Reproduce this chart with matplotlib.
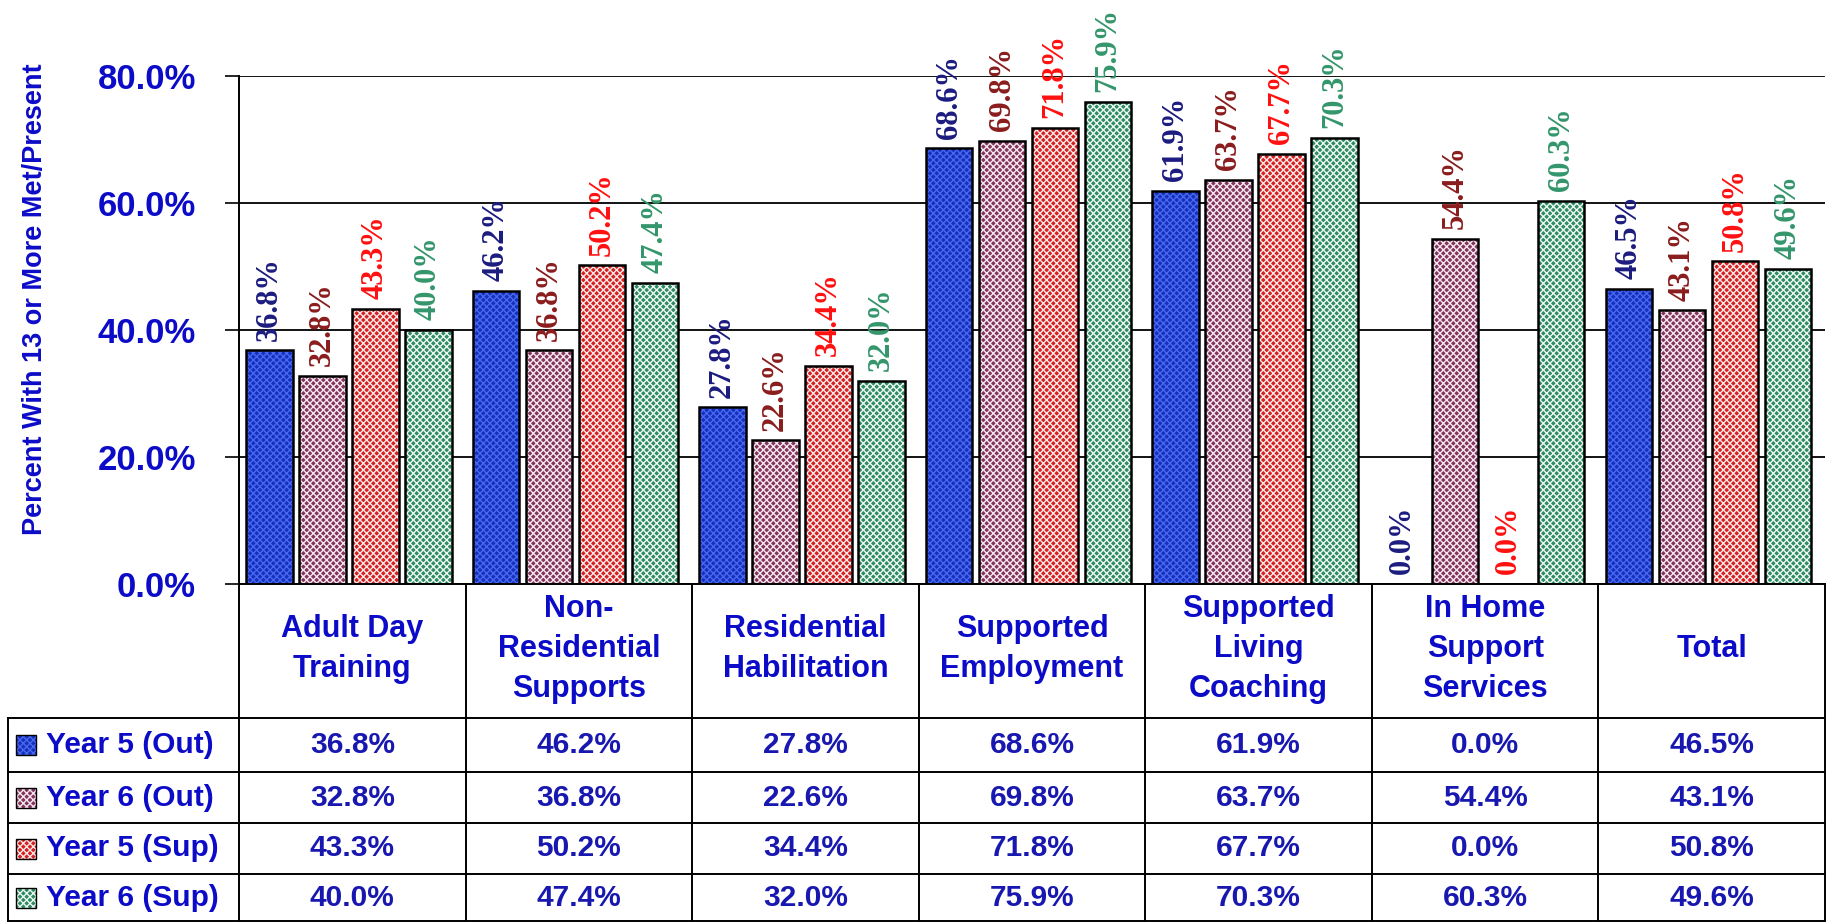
import numpy as np
import matplotlib
matplotlib.use("Agg")
import matplotlib.pyplot as plt
from matplotlib.patches import Rectangle

categories = ["Adult Day\nTraining", "Non-\nResidential\nSupports", "Residential\nHabilitation",
              "Supported\nEmployment", "Supported\nLiving\nCoaching", "In Home\nSupport\nServices", "Total"]
series = ["Year 5 (Out)", "Year 6 (Out)", "Year 5 (Sup)", "Year 6 (Sup)"]
y5_out = [36.8, 46.2, 27.8, 68.6, 61.9, 0.0, 46.5]
y6_out = [32.8, 36.8, 22.6, 69.8, 63.7, 54.4, 43.1]
y5_sup = [43.3, 50.2, 34.4, 71.8, 67.7, 0.0, 50.8]
y6_sup = [40.0, 47.4, 32.0, 75.9, 70.3, 60.3, 49.6]
yticks = [0, 20, 40, 60, 80]

values = [y5_out, y6_out, y5_sup, y6_sup]
# (base colour, hatch colour, label colour)
styles = [("#1430c0", "#4a68ec", "#1c1c80"),
          ("#84345c", "#f4e8f0", "#8a1c1c"),
          ("#d42020", "#fbe8e8", "#ff1010"),
          ("#2e8a62", "#eef8f2", "#34966c")]
blue = "#0c0cc8"
sans = "Liberation Sans"
serif = "Liberation Serif"

W, H = 1829, 923
fig = plt.figure(figsize=(W / 100, H / 100), dpi=100)

x_left, x_right = 239, 1825
y_top, y_bot = 76, 584
ax = fig.add_axes([x_left / W, 1 - y_bot / H, (x_right - x_left) / W, (y_bot - y_top) / H])

n = len(categories)
x = np.arange(n)
step, bw = 0.234, 0.205
for k, (vals, (fc, hc, lc)) in enumerate(zip(values, styles)):
    pos = x + (k - 1.5) * step - 0.015
    ax.bar(pos, vals, bw, color=fc, edgecolor=hc, hatch="xxxxx", linewidth=0, zorder=2)
    ax.bar(pos, vals, bw, facecolor="none", edgecolor="black", linewidth=1.8, zorder=3)
    for p, v in zip(pos, vals):
        ax.annotate(f"{v:.1f}%", (p, v), xytext=(0, 7), textcoords="offset points",
                    rotation=90, ha="center", va="bottom", color=lc,
                    fontsize=22, fontweight="bold", family=serif, annotation_clip=False)

ax.set_xlim(-0.5, n - 0.5)
ax.set_ylim(0, 80)
ax.set_yticks(yticks)
ax.set_yticklabels([f"{t:.1f}%" for t in yticks], color=blue, fontsize=25,
                   fontweight="bold", family=sans)
ax.set_xticks([])
ax.tick_params(axis="y", length=10, width=1.2, pad=21)
ax.grid(axis="y", color="black", linewidth=1.3, zorder=0)
ax.set_axisbelow(True)
for s in ["top", "right", "bottom"]:
    ax.spines[s].set_visible(False)
ax.spines["left"].set_linewidth(1.4)

fig.text(35 / W, 1 - 299 / H, "Percent With 13 or More Met/Present", rotation=90,
         ha="center", va="center", color=blue, fontsize=19.5, fontweight="bold", family=sans)

# data table under the chart, laid out in pixel coordinates
tax = fig.add_axes([0, 0, 1, 1])
tax.set_xlim(0, W)
tax.set_ylim(H, 0)
tax.axis("off")
tax.patch.set_visible(False)

col_w = (x_right - x_left) / n
rows = [718, 772, 823, 874, 921]
lw = 1.4
tax.plot([x_left, x_right], [y_bot, y_bot], color="black", lw=lw)
for i in range(n + 1):
    tax.plot([x_left + i * col_w] * 2, [y_bot, rows[-1]], color="black", lw=lw)
for r in rows:
    tax.plot([8, x_right], [r, r], color="black", lw=lw)
tax.plot([8, 8], [rows[0], rows[-1]], color="black", lw=lw)

for i, cat in enumerate(categories):
    tax.text(x_left + (i + 0.5) * col_w, 649, cat, ha="center", va="center", color=blue,
             fontsize=22, fontweight="bold", family=sans, linespacing=1.42)

for k, (name, vals, (fc, hc, lc)) in enumerate(zip(series, values, styles)):
    yc = (rows[k] + rows[k + 1]) / 2
    tax.add_patch(Rectangle((16, yc - 10), 20, 20, facecolor=fc, edgecolor=hc,
                            hatch="xxxxx", linewidth=0))
    tax.add_patch(Rectangle((16, yc - 10), 20, 20, facecolor="none", edgecolor="black",
                            linewidth=1))
    tax.text(46, yc, name, ha="left", va="center", color=blue, fontsize=21.5,
             fontweight="bold", family=sans)
    for i, v in enumerate(vals):
        tax.text(x_left + (i + 0.5) * col_w, yc, f"{v:.1f}%", ha="center", va="center",
                 color="#1818b0", fontsize=21.5, fontweight="bold", family=sans)

fig.savefig("out.png", dpi=100, facecolor="white")
